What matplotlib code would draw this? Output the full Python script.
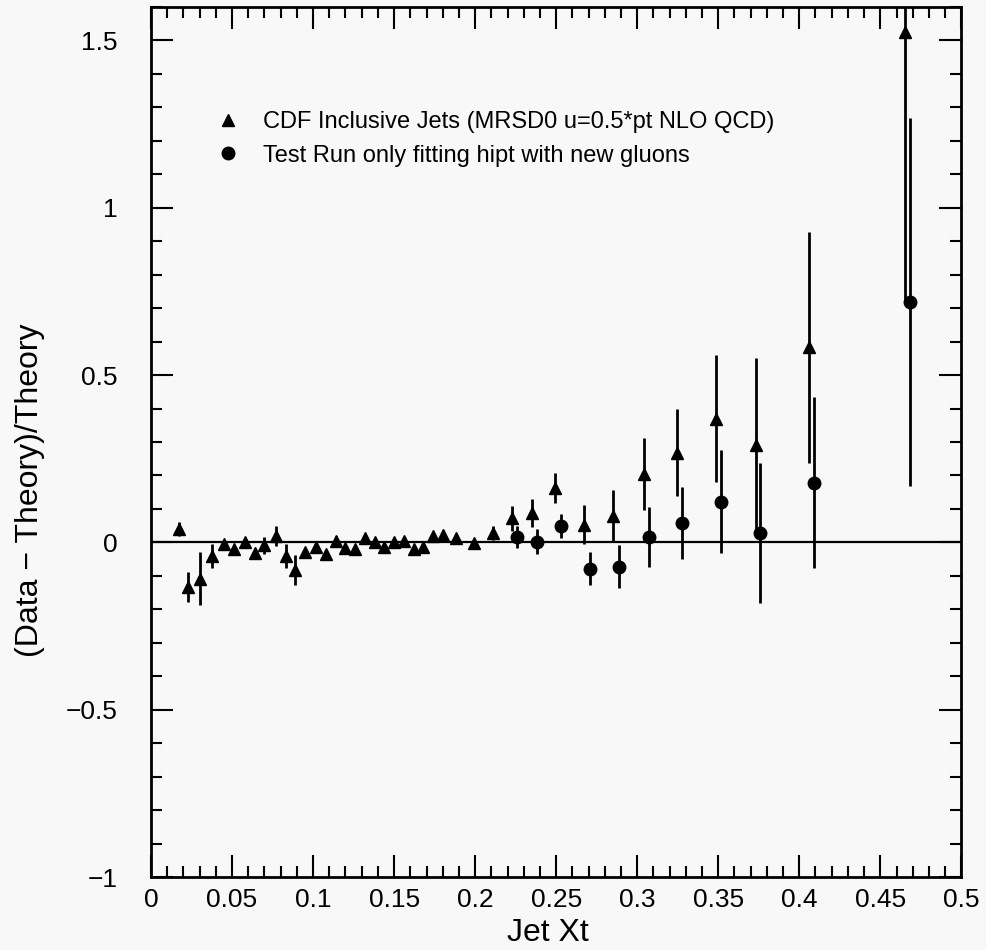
import numpy as np
import matplotlib.pyplot as plt
from matplotlib.ticker import MultipleLocator
from matplotlib.lines import Line2D

plt.rcParams['font.family'] = ['Liberation Sans', 'DejaVu Sans']

# CDF inclusive jets (triangles)
cdf_x = [0.017, 0.023, 0.030, 0.0375, 0.045, 0.051, 0.058, 0.064, 0.070, 0.077,
         0.083, 0.089, 0.095, 0.102, 0.108, 0.114, 0.120, 0.126, 0.132, 0.138,
         0.144, 0.150, 0.156, 0.162, 0.168, 0.174, 0.180, 0.188, 0.199, 0.211,
         0.223, 0.235, 0.249, 0.267, 0.285, 0.304, 0.3245, 0.3485, 0.373, 0.406,
         0.465]
cdf_y = [0.040, -0.134, -0.108, -0.040, -0.006, -0.021, 0.002, -0.031, -0.009, 0.018,
         -0.040, -0.082, -0.029, -0.013, -0.034, 0.003, -0.016, -0.019, 0.013, 0.000,
         -0.014, 0.000, 0.004, -0.019, -0.015, 0.019, 0.021, 0.012, -0.003, 0.028,
         0.072, 0.088, 0.163, 0.053, 0.080, 0.205, 0.268, 0.370, 0.290, 0.583,
         1.525]
cdf_err = [0.020, 0.045, 0.080, 0.035, 0.012, 0.012, 0.012, 0.015, 0.025, 0.030,
           0.035, 0.045, 0.012, 0.012, 0.012, 0.015, 0.012, 0.012, 0.010, 0.012,
           0.012, 0.012, 0.012, 0.012, 0.012, 0.012, 0.015, 0.010, 0.012, 0.022,
           0.037, 0.043, 0.045, 0.058, 0.078, 0.107, 0.130, 0.190, 0.260, 0.345,
           0.800]

# test run fit (circles)
fit_x = [0.226, 0.238, 0.253, 0.2706, 0.289, 0.307, 0.3275, 0.352, 0.376, 0.409, 0.4685]
fit_y = [0.016, 0.002, 0.049, -0.078, -0.072, 0.016, 0.058, 0.122, 0.028, 0.179, 0.718]
fit_err = [0.033, 0.037, 0.037, 0.050, 0.065, 0.089, 0.107, 0.155, 0.210, 0.255, 0.550]

labels = ['CDF Inclusive Jets (MRSD0 u=0.5*pt NLO QCD)',
          'Test Run only fitting hipt with new gluons']

bg = '#f8f8f8'
fig = plt.figure(figsize=(9.87, 9.5), dpi=100, facecolor=bg)
ax = fig.add_axes([0.153, 0.0768, 0.821, 0.9158], facecolor=bg)

ax.axhline(0, color='black', lw=1.6, zorder=1)

ax.errorbar(cdf_x, cdf_y, yerr=cdf_err, fmt='^', color='black', ms=9,
            elinewidth=2.0, capsize=0)
ax.errorbar(fit_x, fit_y, yerr=fit_err, fmt='o', color='black', ms=9,
            elinewidth=2.0, capsize=0)

ax.set_xlim(0, 0.5)
ax.set_ylim(-1, 1.6)

ax.xaxis.set_minor_locator(MultipleLocator(0.01))
ax.yaxis.set_minor_locator(MultipleLocator(0.1))
ax.set_xticks(np.arange(0, 0.501, 0.05))
ax.set_xticklabels(['0', '0.05', '0.1', '0.15', '0.2', '0.25', '0.3', '0.35', '0.4', '0.45', '0.5'])
ax.set_yticks([-1, -0.5, 0, 0.5, 1, 1.5])
ax.set_yticklabels(['\u22121', '\u22120.5', '0', '0.5', '1', '1.5'])

ax.tick_params(which='both', direction='in', top=True, right=True, width=1.5, labelsize=19)
ax.tick_params(which='major', length=16)
ax.tick_params(which='minor', length=8)
ax.tick_params(axis='x', which='major', pad=8)
ax.tick_params(axis='y', which='major', pad=24)
for s in ax.spines.values():
    s.set_linewidth(2)

ax.set_xlabel('Jet Xt', fontsize=23)
ax.xaxis.set_label_coords(0.49, -0.047)
ax.set_ylabel('(Data \u2212 Theory)/Theory', fontsize=23)
ax.yaxis.set_label_coords(-0.131, 0.445)

handles = [Line2D([], [], ls='none', marker='^', color='black', ms=9),
           Line2D([], [], ls='none', marker='o', color='black', ms=9)]
ax.legend(handles, labels, loc='upper left', bbox_to_anchor=(0.06, 0.905), frameon=False,
          fontsize=17, handlelength=0.6, handletextpad=1.2, labelspacing=0.5,
          numpoints=1)

plt.savefig('out.png', dpi=100, facecolor=bg)
